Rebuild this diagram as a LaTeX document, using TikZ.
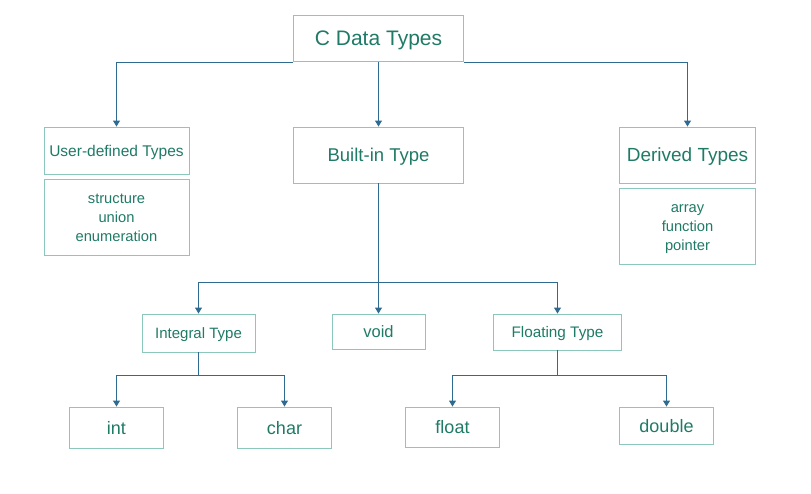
\documentclass[tikz,border=0pt]{standalone}
\usepackage{fontspec}
\setmainfont{Liberation Sans}
\usetikzlibrary{arrows.meta}

\definecolor{typetext}{HTML}{1F7A66}
\definecolor{typeedge}{HTML}{8CC7BC}
\definecolor{typeline}{HTML}{2F6A91}

\tikzset{
  typebox/.style={draw=typeedge, line width=0.9pt, rectangle, inner sep=0pt,
    text=typetext, align=center},
  oneline/.style={text depth=0pt},
  threelines/.style={text height=52pt, text depth=2.4pt,
    font=\fontsize{14.7}{19}\selectfont},
  typearrow/.style={draw=typeline, line width=0.9pt,
    -{Triangle[width=7pt,length=6pt]}},
  typeline/.style={draw=typeline, line width=0.9pt}
}

\begin{document}
\begin{tikzpicture}[x=1pt, y=-1pt]
        \useasboundingbox (0,0) rectangle (811,493);
        \node (CTypes) [typebox, oneline, minimum width=170, minimum height=46, font=\fontsize{21}{24}\selectfont] at (378.5,38.5) {C Data Types};
        \node (UserDef) [typebox, oneline, minimum width=145, minimum height=47, font=\fontsize{15.5}{18}\selectfont] at (116.5,150.5) {User-defined Types};
        \node (UserList) [typebox, threelines, minimum width=145, minimum height=76] at (116.5,217) {structure\\union\\enumeration};
        \node (BuiltIn) [typebox, oneline, minimum width=170, minimum height=56, font=\fontsize{18.5}{21}\selectfont] at (378.5,155) {Built-in Type};
        \node (Derived) [typebox, oneline, minimum width=136, minimum height=56, font=\fontsize{19}{22}\selectfont] at (687.5,155) {Derived Types};
        \node (DerivedList) [typebox, threelines, minimum width=136, minimum height=76] at (687.5,226) {array\\function\\pointer};
        \node (Integral) [typebox, oneline, minimum width=113, minimum height=38, font=\fontsize{15}{18}\selectfont] at (198.5,333) {Integral Type};
        \node (Void) [typebox, oneline, minimum width=93, minimum height=35, font=\fontsize{16.5}{19}\selectfont] at (378.5,331.5) {void};
        \node (Floating) [typebox, oneline, minimum width=128, minimum height=36, font=\fontsize{15.3}{18}\selectfont] at (557.5,332) {Floating Type};
        \node (Int) [typebox, oneline, minimum width=94, minimum height=41, font=\fontsize{18}{21}\selectfont] at (116.5,427.5) {int};
        \node (Char) [typebox, oneline, minimum width=94, minimum height=41, font=\fontsize{18}{21}\selectfont] at (284.5,427.5) {char};
        \node (Float) [typebox, oneline, minimum width=94, minimum height=40, font=\fontsize{18}{21}\selectfont] at (452.5,427) {float};
        \node (Double) [typebox, oneline, minimum width=94, minimum height=37, font=\fontsize{18}{21}\selectfont] at (666.5,425.5) {double};

        \coordinate (BuiltSplit) at (378.5,282.5);
        \coordinate (IntSplit) at (198.5,375.5);
        \coordinate (FloatSplit) at (557.5,375.5);

        \draw [typearrow] (CTypes.south west) -| (UserDef.north);
        \draw [typearrow] (CTypes.south east) -| (Derived.north);
        \draw [typearrow] (CTypes) -- (BuiltIn);
        \draw [typearrow] (BuiltIn) -- (Void);
        \draw [typearrow] (BuiltSplit) -| (Integral.north);
        \draw [typearrow] (BuiltSplit) -| (Floating.north);
        \draw [typeline] (Integral) -- (IntSplit);
        \draw [typearrow] (IntSplit) -| (Int.north);
        \draw [typearrow] (IntSplit) -| (Char.north);
        \draw [typeline] (Floating) -- (FloatSplit);
        \draw [typearrow] (FloatSplit) -| (Float.north);
        \draw [typearrow] (FloatSplit) -| (Double.north);
      \end{tikzpicture}
\end{document}
